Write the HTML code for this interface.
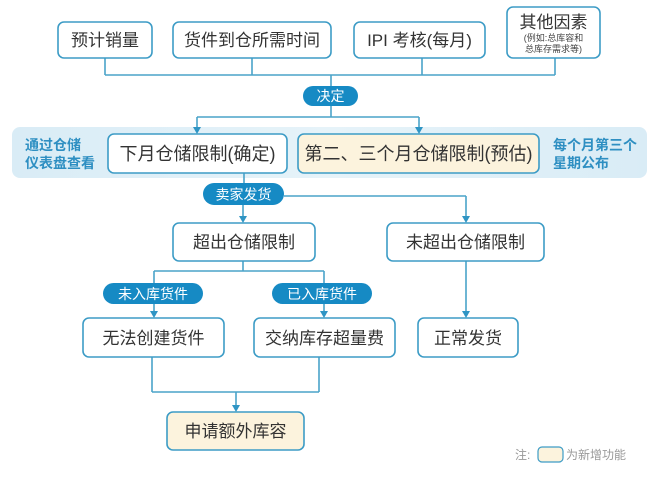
<!DOCTYPE html>
<html><head><meta charset="utf-8"><style>
html,body{margin:0;padding:0;background:#fff;}
svg{display:block;}
text{font-family:"Liberation Sans","Noto Sans CJK SC",sans-serif;}
</style></head><body>
<svg width="658" height="477" viewBox="0 0 658 477" xmlns="http://www.w3.org/2000/svg">
<defs>
<linearGradient id="band" x1="0" x2="1" y1="0" y2="0">
<stop offset="0" stop-color="#d9ecf6"/><stop offset="0.5" stop-color="#e6f3f9"/><stop offset="1" stop-color="#d9ecf6"/>
</linearGradient>
</defs>
<rect x="0" y="0" width="658" height="477" fill="#fff"/>
<!-- band -->
<rect x="12" y="127" width="635" height="51" rx="8" fill="url(#band)"/>
<g stroke="#4aa3c9" stroke-width="1.6" fill="none">
<path d="M105,58 V75 M252,58 V75 M422,58 V75 M555,58 V75 M105,75 H555 M331,75 V86"/>
<path d="M331,105 V117 M197,117 H419"/>
<path d="M197,117 V128"/>
<path d="M419,117 V128"/>
<path d="M244,173 V183"/>
<path d="M284,196 H466"/>
<path d="M466,196 V217"/>
<path d="M243,205 V217"/>
<path d="M243,261 V271 M154,271 H324 M154,271 V283 M324,271 V283"/>
<path d="M154,304 V312"/>
<path d="M324,304 V312"/>
<path d="M466,261 V312"/>
<path d="M152,357 V392 M319,357 V392 M152,392 H319"/>
<path d="M236,392 V406"/>
</g>
<g fill="#2f95c4">
<polygon points="193,127 201,127 197,134"/>
<polygon points="415,127 423,127 419,134"/>
<polygon points="462,216 470,216 466,223"/>
<polygon points="239,216 247,216 243,223"/>
<polygon points="150,311 158,311 154,318"/>
<polygon points="320,311 328,311 324,318"/>
<polygon points="462,311 470,311 466,318"/>
<polygon points="232,405 240,405 236,412"/>
</g>
<!-- boxes -->
<g stroke="#3d9cc6" stroke-width="1.6">
<rect x="58" y="22" width="94" height="36" rx="6" fill="#fff"/>
<rect x="173" y="22" width="158" height="36" rx="6" fill="#fff"/>
<rect x="354" y="22" width="131" height="36" rx="6" fill="#fff"/>
<rect x="507" y="7" width="93" height="51" rx="6" fill="#fff"/>
<rect x="108" y="134" width="179" height="39" rx="6" fill="#fff"/>
<rect x="298" y="134" width="241" height="39" rx="6" fill="#fcf3dd"/>
<rect x="173" y="223" width="142" height="38" rx="6" fill="#fff"/>
<rect x="387" y="223" width="157" height="38" rx="6" fill="#fff"/>
<rect x="83" y="318" width="141" height="39" rx="6" fill="#fff"/>
<rect x="254" y="318" width="141" height="39" rx="6" fill="#fff"/>
<rect x="418" y="318" width="100" height="39" rx="6" fill="#fff"/>
<rect x="167" y="412" width="137" height="38" rx="6" fill="#fcf3dd"/>
<rect x="538" y="447" width="25" height="15" rx="4" fill="#fcf3dd" stroke-width="1.2"/>
</g>
<!-- pills -->
<g fill="#168ac4">
<rect x="303" y="86" width="55" height="20" rx="10"/>
<rect x="203" y="183" width="81" height="22" rx="11"/>
<rect x="103" y="283" width="100" height="21" rx="10.5"/>
<rect x="272" y="283" width="100" height="21" rx="10.5"/>
</g>
<g fill="#fff" font-size="14" text-anchor="middle">
<text x="330.5" y="101">决定</text>
<text x="243.5" y="199.5">卖家发货</text>
<text x="153" y="299">未入库货件</text>
<text x="322" y="299">已入库货件</text>
</g>
<!-- box text -->
<g fill="#333" font-size="17" text-anchor="middle">
<text x="105" y="46">预计销量</text>
<text x="252" y="46">货件到仓所需时间</text>
<text x="419.5" y="46">IPI 考核(每月)</text>
<text x="553.5" y="28">其他因素</text>
<text x="197.5" y="160" font-size="18">下月仓储限制(确定)</text>
<text x="418.5" y="160" font-size="18">第二、三个月仓储限制(预估)</text>
<text x="244" y="248">超出仓储限制</text>
<text x="465.5" y="248">未超出仓储限制</text>
<text x="153.5" y="344">无法创建货件</text>
<text x="324.5" y="344">交纳库存超量费</text>
<text x="468" y="344">正常发货</text>
<text x="235.5" y="437">申请额外库容</text>
</g>
<g fill="#444" font-size="9" text-anchor="middle">
<text x="553.5" y="41">(例如:总库容和</text>
<text x="553.5" y="52">总库存需求等)</text>
</g>
<g fill="#2e8fc2" font-size="14" font-weight="bold">
<text x="25" y="150">通过仓储</text>
<text x="25" y="168">仪表盘查看</text>
<text x="553" y="150">每个月第三个</text>
<text x="553" y="168">星期公布</text>
</g>
<g fill="#999" font-size="12">
<text x="515" y="459">注:</text>
<text x="566" y="459">为新增功能</text>
</g>
</svg>
</body></html>
